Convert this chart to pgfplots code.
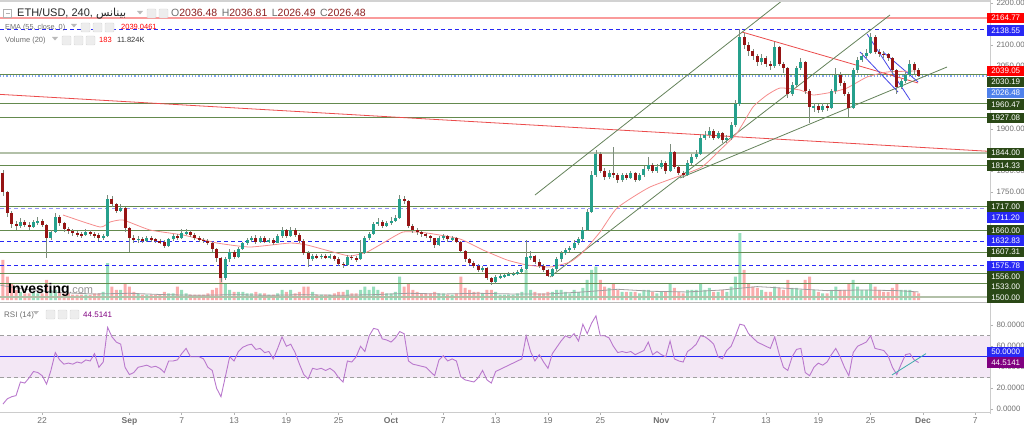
\documentclass[border=0pt]{standalone}
\usepackage{pgfplots}
\pgfplotsset{compat=1.18}
\usepackage{pgfplotstable}
\usepackage{fontspec}
\setmainfont{Liberation Sans}
\newfontfamily\arabicfont[Script=Arabic]{DejaVu Sans}
\TeXXeTstate=1

\definecolor{upc}{RGB}{38,160,140}
\definecolor{dnc}{RGB}{150,20,20}
\definecolor{wick}{RGB}{125,140,125}
\definecolor{lvl}{RGB}{100,138,78}
\definecolor{lvlbox}{RGB}{42,72,22}
\definecolor{dashb}{RGB}{40,40,245}
\definecolor{lightdash}{RGB}{150,150,250}
\definecolor{salmon}{RGB}{250,155,155}
\definecolor{trendg}{RGB}{100,130,90}
\definecolor{trendr}{RGB}{235,75,75}
\definecolor{trendb}{RGB}{70,70,230}
\definecolor{emac}{RGB}{245,140,140}
\definecolor{volup}{RGB}{150,222,188}
\definecolor{voldn}{RGB}{250,172,172}
\definecolor{rsic}{RGB}{185,120,205}
\definecolor{rsiband}{RGB}{243,231,245}
\definecolor{purp}{RGB}{128,0,128}
\definecolor{cblue}{RGB}{80,130,235}
\definecolor{gtxt}{RGB}{110,110,110}
\definecolor{ohlc}{RGB}{140,30,30}
\definecolor{thickg}{RGB}{178,192,168}
\definecolor{curp}{RGB}{130,165,240}
\definecolor{tealc}{RGB}{60,170,170}

\pgfplotstableread{
c h l v r
1750 1803 1742 60 5
1700 1752 1690 35 10
1675 1705 1665 25 12
1670 1682 1660 15 13
1680 1688 1665 12 26
1672 1685 1666 10 25
1668 1678 1660 10 30
1678 1684 1664 12 36
1682 1690 1672 10 35
1672 1686 1668 10 32
1640 1675 1593 30 24
1655 1660 1636 15 37
1692 1700 1652 15 54
1676 1695 1670 12 47
1662 1680 1655 10 43
1657 1668 1650 10 44
1652 1662 1646 8 43
1650 1658 1644 8 45
1648 1656 1642 8 44
1656 1662 1645 8 47
1650 1660 1646 8 46
1648 1656 1642 10 53
1640 1652 1635 10 40
1646 1650 1636 12 45
1735 1743 1644 55 78
1722 1740 1715 20 69
1706 1725 1700 15 64
1712 1722 1702 15 62
1665 1715 1655 25 40
1640 1668 1607 20 33
1636 1648 1630 12 35
1639 1646 1630 10 40
1635 1644 1630 8 41
1641 1646 1632 8 42
1638 1645 1632 8 40
1633 1642 1628 8 41
1632 1638 1626 8 39
1622 1636 1617 12 35
1638 1642 1620 10 46
1645 1650 1634 10 46
1640 1650 1636 20 47
1652 1662 1638 15 53
1656 1662 1648 10 58
1648 1660 1644 8 50
1641 1652 1636 8 50
1636 1645 1632 8 50
1635 1642 1630 8 48
1630 1638 1624 10 40
1614 1632 1608 15 37
1594 1616 1585 18 20
1545 1596 1537 35 12
1590 1595 1542 25 31
1608 1614 1585 15 50
1596 1612 1590 12 46
1615 1620 1594 12 55
1628 1632 1612 12 59
1636 1640 1625 10 61
1640 1646 1632 10 62
1631 1648 1626 12 57
1642 1646 1628 10 58
1632 1645 1628 10 54
1636 1640 1628 8 55
1630 1640 1625 8 48
1646 1650 1628 10 58
1660 1668 1642 15 69
1646 1662 1640 12 60
1660 1668 1644 15 62
1648 1664 1644 10 54
1635 1652 1630 12 43
1605 1638 1600 20 33
1590 1610 1572 20 29
1597 1602 1586 12 39
1596 1602 1590 8 38
1598 1603 1592 8 39
1595 1602 1590 8 37
1598 1603 1591 8 39
1592 1600 1586 10 36
1580 1595 1575 12 30
1576 1584 1570 12 26
1596 1600 1574 15 46
1594 1600 1588 10 45
1590 1598 1585 10 50
1606 1636 1588 15 60
1640 1645 1604 20 55
1650 1656 1636 15 70
1675 1680 1648 20 77
1680 1688 1670 15 76
1670 1684 1665 12 67
1676 1682 1666 10 66
1682 1690 1672 10 64
1688 1695 1678 12 68
1735 1743 1686 35 74
1730 1740 1722 20 72
1670 1732 1665 25 46
1660 1675 1652 15 43
1655 1665 1648 12 42
1650 1658 1644 10 41
1645 1654 1640 10 40
1640 1648 1634 10 36
1625 1642 1618 12 32
1640 1645 1622 10 47
1645 1650 1636 10 51
1638 1648 1632 8 46
1641 1646 1634 8 48
1632 1644 1628 10 46
1610 1635 1605 35 31
1590 1612 1585 18 28
1582 1594 1576 15 27
1575 1586 1570 12 26
1565 1578 1560 12 30
1570 1575 1560 10 37
1545 1572 1540 15 28
1536 1548 1529 15 25
1548 1552 1532 12 36
1550 1555 1544 8 38
1552 1556 1546 8 40
1555 1560 1550 8 42
1556 1560 1550 8 44
1560 1564 1552 10 46
1566 1572 1558 12 48
1595 1636 1564 45 70
1598 1610 1588 15 55
1585 1600 1578 12 46
1575 1590 1570 10 52
1565 1580 1560 10 45
1551 1568 1547 12 39
1566 1570 1548 12 53
1590 1595 1562 15 59
1605 1610 1585 15 65
1612 1618 1600 12 70
1616 1622 1608 10 68
1630 1636 1612 15 72
1638 1644 1625 12 65
1660 1666 1635 18 81
1702 1710 1658 30 72
1790 1800 1700 45 82
1840 1850 1786 50 89
1800 1845 1795 30 70
1786 1808 1780 20 70
1796 1802 1782 18 68
1790 1858 1785 25 60
1780 1796 1772 15 54
1790 1796 1775 12 55
1785 1795 1778 12 54
1795 1800 1782 12 55
1780 1798 1775 12 52
1790 1796 1776 10 54
1806 1812 1786 15 56
1815 1835 1800 15 64
1800 1820 1795 12 52
1810 1816 1796 10 55
1820 1826 1806 12 52
1800 1824 1794 12 50
1845 1865 1798 25 65
1810 1848 1805 18 48
1795 1815 1790 12 46
1790 1800 1784 10 45
1820 1826 1788 15 55
1835 1842 1815 15 58
1842 1850 1830 15 62
1880 1888 1838 25 70
1886 1895 1874 15 69
1895 1905 1880 18 66
1880 1900 1874 12 62
1890 1896 1876 12 50
1875 1894 1868 15 48
1880 1886 1866 12 56
1910 1916 1875 20 60
1960 1970 1905 35 70
2120 2138.55 1955 100 81
2100 2130 2090 45 80
2086 2108 2075 25 72
2075 2092 2065 20 68
2060 2080 2050 18 64
2070 2078 2052 15 62
2056 2074 2048 12 60
2050 2062 2040 12 58
2095 2108 2046 20 69
2056 2098 2050 18 53
2045 2060 2035 15 40
1985 2048 1975 30 37
2005 2012 1978 18 50
2045 2050 2000 18 57
2060 2070 2040 15 58
1990 2062 1985 30 35
1952 1995 1915 35 32
1956 1962 1940 15 40
1946 1960 1938 12 44
1956 1962 1942 10 42
1950 1960 1944 10 45
1990 1996 1948 15 52
2030 2045 1985 20 58
2010 2036 2004 15 50
1985 2014 1978 15 40
1950 1988 1930 25 32
2040 2046 1948 30 54
2065 2072 2035 20 60
2075 2082 2060 15 62
2082 2090 2070 15 64
2120 2130 2078 25 70
2085 2124 2080 20 58
2080 2092 2072 15 57
2078 2086 2070 12 56
2070 2082 2062 12 51
2040 2072 2034 18 40
2000 2044 1985 25 33
2015 2020 1995 15 43
2030 2036 2010 15 52
2056 2065 2026 15 53
2040 2060 2032 12 47
2026.48 2045 2025 10 44.5141
}\pricedata
\pgfplotstablecreatecol[create col/expr={\pgfplotstablerow*0.5-44.5}]{t}{\pricedata}
\pgfplotstablecreatecol[create col/assign/.code={%
  \getprevrow{c}\entry
  \ifx\entry\empty\def\entry{1795}\fi
  \pgfkeyslet{/pgfplots/table/create col/next content}\entry}]{o}{\pricedata}

\pgfplotstableread{
t p
-37.61 1695.7
-33.37 1667.1
-32.22 1679.0
-30.73 1683.8
-27.64 1660.0
-23.85 1648.1
-19.95 1629.0
-16.17 1619.5
-11.58 1629.0
-9.63 1624.3
-6.65 1607.6
-4.70 1598.1
-2.75 1607.6
-0.92 1629.0
1.38 1655.2
4.13 1652.8
7.91 1638.6
10.55 1612.4
13.30 1588.6
15.60 1576.7
18.23 1571.9
20.53 1583.8
22.02 1607.6
23.97 1655.2
25.92 1712.4
29.70 1762.4
35.44 1807.6
37.73 1850.5
39.68 1890.9
41.51 1952.9
43.12 1981.4
44.61 1998.1
46.90 1993.3
48.39 1981.4
50.69 1988.6
52.29 1998.1
54.59 2024.3
56.88 2036.2
60.32 2038.6
}\emadata

\newcommand{\pbox}[3]{\node[anchor=west,fill=#1,text=white,minimum width=37pt,minimum height=10.5pt,inner sep=0pt,font=\fontsize{8}{9}\selectfont] at (987,#2) {#3};}
\newcommand{\icon}[2]{\filldraw[fill=gray!14,draw=gray!30,rounded corners=1pt] (#1,#2) rectangle ++(9,9);}
\newcommand{\tri}[2]{\fill[gray!55] (#1,#2) -- ++(6,0) -- ++(-3,-3.5) -- cycle;}
\pgfplotsset{candle/.style={only marks, mark=*, mark size=0pt, mark options={draw=none, fill=none}, forget plot,
  error bars/.cd, y dir=both, y explicit, error mark=none}}

\begin{document}
\begin{tikzpicture}[x=1pt,y=1pt]
\useasboundingbox (0,0) rectangle (1024,426);

% ---------- volume (overlay, bottom of price panel)
\begin{axis}[at={(0pt,126pt)}, anchor=south west, scale only axis,
  width=990pt, height=67pt, xmin=-44.84, xmax=68.69, ymin=0, ymax=100,
  axis lines=none, clip=true]
\addplot[ybar, bar width=3pt, bar shift=0pt, fill=volup, draw=none]
  table[x=t, y expr={\thisrow{c}>=\thisrow{o} ? \thisrow{v} : nan}]{\pricedata};
\addplot[ybar, bar width=3pt, bar shift=0pt, fill=voldn, draw=none]
  table[x=t, y expr={\thisrow{c}>=\thisrow{o} ? nan : \thisrow{v}}]{\pricedata};
\addplot[gray!75, line width=0.8pt] coordinates {(-44.8,22) (-42,16) (-38,11) (-34,9) (-30,10) (-26,8) (-22,7) (-18,8) (-14,7) (-10,8) (-6,7) (-2,8) (2,10) (6,9) (10,10) (14,9) (18,9) (22,12) (26,16) (30,13) (34,12) (38,15) (42,20) (46,17) (50,14) (54,15) (58,14) (60.5,12)};
\end{axis}

% ---------- price panel
\begin{axis}[at={(0pt,124pt)}, anchor=south west, scale only axis,
  width=990pt, height=302pt, xmin=-44.84, xmax=68.69, ymin=1488.58, ymax=2207.63,
  axis line style={draw=none}, xtick=\empty,
  ytick={1750,1800,1900,1950,2050,2100,2200}, ytick pos=right, yticklabel pos=right,
  tick align=outside, major tick length=3pt, tick style={gray!60, line width=0.6pt},
  scaled y ticks=false,
  y tick label style={font=\fontsize{7.8}{9}\selectfont, text=gtxt,
    /pgf/number format/.cd, fixed, fixed zerofill, precision=2, 1000 sep={}, assume math mode=true},
  clip=true]
% horizontal levels
\addplot[salmon, line width=2.4pt] coordinates {(-44.84,2164.77) (68.69,2164.77)};
\addplot[dashb, line width=0.8pt, dash pattern=on 4pt off 3pt] coordinates {(-44.84,2138.55) (68.69,2138.55)};
\addplot[lvl, line width=0.7pt] coordinates {(-44.84,2030.19) (68.69,2030.19)};
\addplot[curp, line width=1.2pt, dotted] coordinates {(-44.84,2026.48) (68.69,2026.48)};
\addplot[lvl, line width=0.7pt] coordinates {(-44.84,1960.47) (68.69,1960.47)};
\addplot[lvl, line width=0.7pt] coordinates {(-44.84,1927.08) (68.69,1927.08)};
\addplot[thickg, line width=2.2pt] coordinates {(-44.84,1844) (68.69,1844)};
\addplot[lvl, line width=0.7pt] coordinates {(-44.84,1814.33) (68.69,1814.33)};
\addplot[lvl, line width=0.7pt] coordinates {(-44.84,1717) (68.69,1717)};
\addplot[lightdash, line width=1.2pt, dash pattern=on 4pt off 3pt] coordinates {(-44.84,1711.2) (68.69,1711.2)};
\addplot[lvl, line width=0.7pt] coordinates {(-44.84,1660) (68.69,1660)};
\addplot[dashb, line width=0.8pt, dash pattern=on 4pt off 3pt] coordinates {(-44.84,1632.83) (68.69,1632.83)};
\addplot[lvl, line width=0.7pt] coordinates {(-44.84,1607.31) (68.69,1607.31)};
\addplot[dashb, line width=0.8pt, dash pattern=on 4pt off 3pt] coordinates {(-44.84,1575.78) (68.69,1575.78)};
\addplot[lvl, line width=0.7pt] coordinates {(-44.84,1556) (68.69,1556)};
\addplot[lvl, line width=0.7pt] coordinates {(-44.84,1533) (68.69,1533)};
\addplot[thickg, line width=2.2pt] coordinates {(-44.84,1500) (68.69,1500)};
% trend lines
\addplot[trendr, line width=0.8pt] coordinates {(-44.84,1982.9) (68.69,1847.2)};
\addplot[trendr, line width=0.8pt] coordinates {(40.25,2131.4) (60.44,2010.0)};
\addplot[trendg, line width=0.8pt] coordinates {(16.51,1743.3) (44.95,2207.6)};
\addplot[trendg, line width=0.8pt] coordinates {(18.23,1548.1) (57.22,2171.9)};
\addplot[trendg, line width=0.8pt] coordinates {(33.14,1783.8) (63.76,2048.1)};
\addplot[trendb, line width=0.8pt] coordinates {(54.59,2126.7) (59.52,1969.5)};
\addplot[trendb, line width=0.8pt] coordinates {(53.78,2083.8) (58.14,1988.6)};
\addplot[trendb, line width=0.8pt] coordinates {(56.43,2083.8) (60.44,2012.4)};
% EMA 55
\addplot[emac, line width=0.8pt, smooth, tension=0.3] table[x=t, y=p]{\emadata};
% candle wicks
\addplot[candle, error bar style={wick, line width=0.8pt}]
  table[x=t, y expr={(\thisrow{h}+\thisrow{l})/2}, y error expr={(\thisrow{h}-\thisrow{l})/2}]{\pricedata};
% up bodies
\addplot[candle, error bar style={upc, line width=3pt}]
  table[x=t, y expr={\thisrow{c}>=\thisrow{o} ? (\thisrow{o}+\thisrow{c})/2 : nan},
        y error expr={max(abs(\thisrow{c}-\thisrow{o})/2,0.8)}]{\pricedata};
% down bodies
\addplot[candle, error bar style={dnc, line width=3pt}]
  table[x=t, y expr={\thisrow{c}>=\thisrow{o} ? nan : (\thisrow{o}+\thisrow{c})/2},
        y error expr={max(abs(\thisrow{c}-\thisrow{o})/2,0.8)}]{\pricedata};
\end{axis}

% ---------- RSI panel
\begin{axis}[at={(0pt,14pt)}, anchor=south west, scale only axis,
  width=990pt, height=109pt, xmin=-44.84, xmax=68.69, ymin=-2.57, ymax=101.2,
  axis line style={draw=none},
  xtick={-40,-30,-24,-18,-12,-6,0,6,12,18,24,31,37,43,49,55,61,67},
  xticklabels={22,\textbf{Sep},7,13,19,25,\textbf{Oct},7,13,19,25,\textbf{Nov},7,13,19,25,\textbf{Dec},7},
  xtick pos=bottom,
  ytick={0,20,40,60,80}, ytick pos=right, yticklabel pos=right,
  tick align=outside, major tick length=3pt, tick style={gray!60, line width=0.6pt},
  x tick label style={font=\fontsize{8.5}{9}\selectfont, text=gtxt, yshift=1pt},
  y tick label style={font=\fontsize{7.8}{9}\selectfont, text=gtxt,
    /pgf/number format/.cd, fixed, fixed zerofill, precision=4, 1000 sep={}, assume math mode=true},
  clip=true]
\addplot[fill=rsiband, draw=none] coordinates {(-44.84,30) (68.69,30) (68.69,70) (-44.84,70) (-44.84,30)};
\addplot[gray!75, line width=0.8pt, dash pattern=on 4pt off 3pt] coordinates {(-44.84,70) (68.69,70)};
\addplot[gray!75, line width=0.8pt, dash pattern=on 4pt off 3pt] coordinates {(-44.84,30) (68.69,30)};
\addplot[dashb, line width=0.9pt] coordinates {(-44.84,50) (68.69,50)};
\addplot[rsic, line width=0.9pt] table[x=t, y=r]{\pricedata};
\addplot[tealc, line width=0.8pt] coordinates {(57.45,32.7) (61.35,53.0)};
\end{axis}

% ---------- frame lines
\draw[gray!35, line width=2pt] (0,425) -- (990,425);
\draw[gray!55, line width=1.5pt] (0,123.5) -- (990,123.5);
\draw[gray!40, line width=1pt] (0,14) -- (990,14);
\draw[gray!40, line width=1.5pt] (990.5,426) -- (990.5,12);

% ---------- right value boxes
\pbox{red}{408}{2164.77}
\pbox{dashb}{395.3}{2138.55}
\pbox{red}{355}{2039.05}
\pbox{lvlbox}{344}{2030.19}
\pbox{cblue}{333}{2026.48}
\pbox{lvlbox}{321.5}{1960.47}
\pbox{lvlbox}{308}{1927.08}
\pbox{lvlbox}{273}{1844.00}
\pbox{lvlbox}{260.5}{1814.33}
\pbox{lvlbox}{219.3}{1717.00}
\pbox{dashb}{208.7}{1711.20}
\pbox{lvlbox}{195.7}{1660.00}
\pbox{dashb}{185.3}{1632.83}
\pbox{lvlbox}{174}{1607.31}
\pbox{dashb}{160}{1575.78}
\pbox{lvlbox}{149.3}{1556.00}
\pbox{lvlbox}{139.3}{1533.00}
\pbox{lvlbox}{128.3}{1500.00}
\pbox{dashb}{74}{50.0000}
\pbox{purp}{63.5}{44.5141}

% ---------- header texts
\draw[gray!60, line width=0.6pt] (3.5,408.5) rectangle (11.5,416.5);
\draw[gray!60, line width=0.6pt] (5.5,412.5) -- (9.5,412.5);
\node[anchor=base west, inner sep=0pt, font=\fontsize{11}{12}\selectfont, text=black!85] at (17,409)
  {ETH/USD, 240, {\arabicfont\beginR بينانس\endR}};
\tri{137}{415}
\icon{147}{408}\icon{159}{408}
\node[anchor=base west, inner sep=0pt, font=\fontsize{10.5}{12}\selectfont] at (171,409)
  {\textcolor{gtxt}{O}\textcolor{ohlc}{2036.48}\hspace{4.5pt}\textcolor{gtxt}{H}\textcolor{ohlc}{2036.81}\hspace{4.5pt}\textcolor{gtxt}{L}\textcolor{ohlc}{2026.49}\hspace{4.5pt}\textcolor{gtxt}{C}\textcolor{ohlc}{2026.48}};

\node[anchor=base west, inner sep=0pt, font=\fontsize{7.3}{9}\selectfont, text=gtxt] at (5,396) {EMA (55, close, 0)};
\tri{71}{402}
\icon{81}{394}\icon{93}{394}\icon{105}{394}
\node[anchor=base west, inner sep=0pt, font=\fontsize{7.5}{9}\selectfont, text=red] at (121,396) {2039.0461};

\node[anchor=base west, inner sep=0pt, font=\fontsize{7.5}{9}\selectfont, text=gtxt] at (5,383) {Volume (20)};
\tri{52}{389}
\icon{62}{381}\icon{74}{381}\icon{86}{381}
\node[anchor=base west, inner sep=0pt, font=\fontsize{7.5}{9}\selectfont, text=red] at (99,383) {183};
\node[anchor=base west, inner sep=0pt, font=\fontsize{7.5}{9}\selectfont, text=black!80] at (117,383) {11.824K};

% Investing.com
\node[anchor=base west, inner sep=0pt, font=\fontsize{14}{15}\selectfont\bfseries, text=black] at (8,133) {Investing};
\node[anchor=base west, inner sep=0pt, font=\fontsize{11}{12}\selectfont, text=gray!85] at (69,133) {.com};

% RSI header
\node[anchor=base west, inner sep=0pt, font=\fontsize{8}{9}\selectfont, text=gtxt] at (4,109) {RSI (14)};
\tri{33}{115}
\icon{46}{107}\icon{58}{107}\icon{70}{107}
\node[anchor=base west, inner sep=0pt, font=\fontsize{8}{9}\selectfont, text=purp] at (83,109) {44.5141};
\end{tikzpicture}
\end{document}
